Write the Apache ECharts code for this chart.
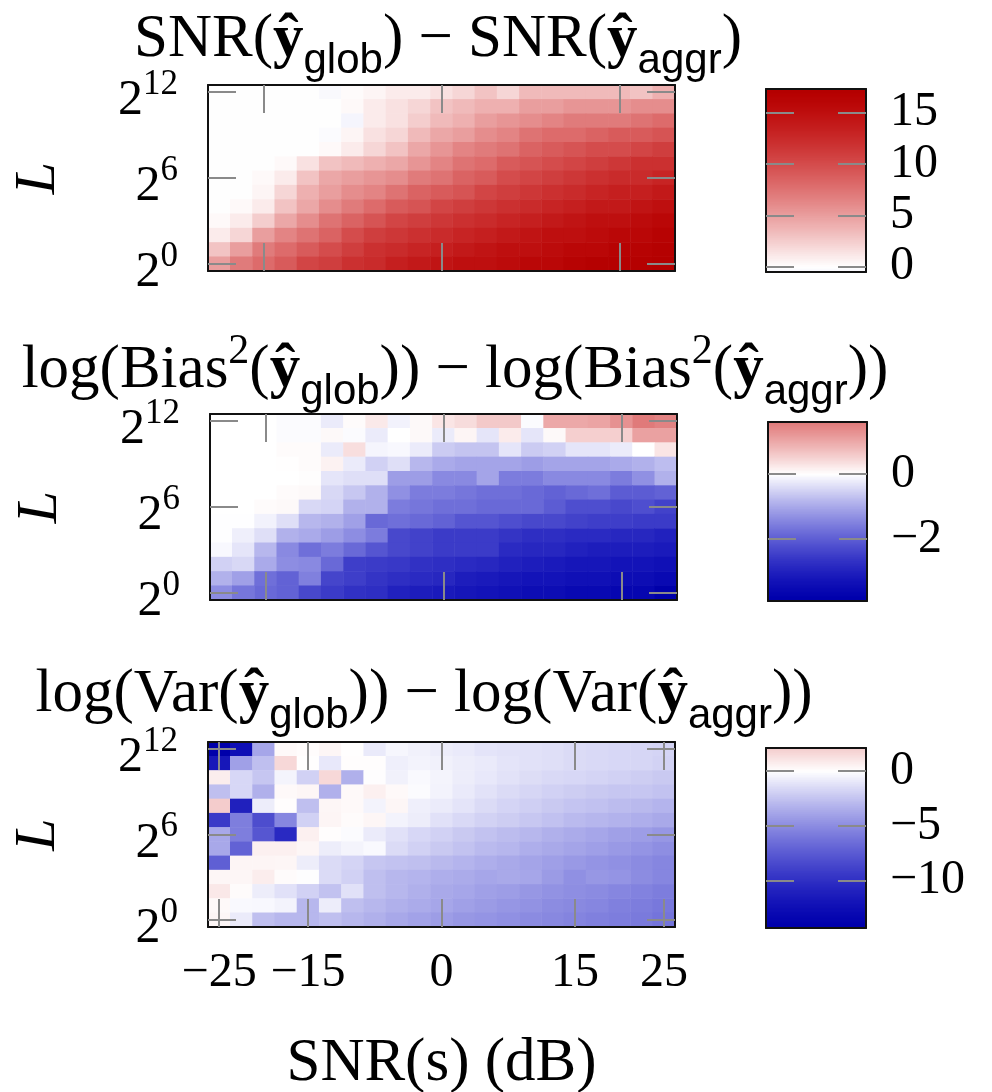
<!DOCTYPE html>
<html>
<head>
<meta charset="utf-8">
<script src="https://cdn.jsdelivr.net/npm/echarts@6/dist/echarts.min.js"></script>
<style>
  html, body { margin: 0; padding: 0; background: #fff; }
  #chart { width: 992px; height: 1092px; }
</style>
</head>
<body>
<div id="chart"></div>
<script>
// x: SNR(s) in dB, y: log2(L)
const snrDb = [-25, -22.5, -20, -17.5, -15, -12.5, -10, -7.5, -5, -2.5, 0, 2.5, 5, 7.5, 10, 12.5, 15, 17.5, 20, 22.5, 25];
const log2L = [0, 1, 2, 3, 4, 5, 6, 7, 8, 9, 10, 11, 12];

const xTicksTop = [-20, 0, 20];
const xTicksBottom = [-25, -15, 0, 15, 25];
const yTicks = [0, 6, 12];

// rows listed from L = 2^12 (top) down to L = 2^0 (bottom)
const snrDiff = [
  [0, 0, 0, 0, 0, -0.3, 0.2, 0.5, 1, 1, 1.5, 2, 3, 2, 3.5, 3.5, 3.5, 3.5, 3.5, 3, 4],
  [0, 0, 0, 0, 0, 0, 0.3, 1, 1.5, 2, 3, 3.5, 4, 4, 5, 5, 5.5, 5.5, 5.5, 6, 6],
  [0, 0, 0, 0, 0, 0, -0.5, 1, 1.5, 2.5, 3.5, 4, 5, 5.5, 6, 6.5, 7, 7, 7, 7.5, 8],
  [0, 0, 0, 0, 0, -0.2, 0.5, 1.5, 2, 3.5, 4.5, 5, 6, 6.5, 7.5, 8, 8, 8.5, 9, 9, 9.5],
  [0, 0, 0, 0, 0, 0.3, 1, 2, 3, 4.5, 5.5, 6.5, 7, 7.5, 8.5, 9, 9.5, 10, 10, 10.5, 11],
  [0, 0, 0, 0.3, 1.5, 3, 3.5, 4, 4.5, 5.5, 6.5, 7.5, 8, 9, 9.5, 10, 10.5, 11, 11.5, 12, 12],
  [0, 0, 0.3, 1, 3, 4.5, 5, 5.5, 6, 7, 7.5, 8.5, 9, 10, 10.5, 11, 11.5, 12, 12.5, 12.5, 13],
  [0, 0, 0.5, 2, 4, 5, 6, 6.5, 7.5, 8.5, 9, 9.5, 10.5, 11, 11.5, 12, 12.5, 13, 13.5, 13.5, 14],
  [0, 0.3, 1, 3, 4.5, 6, 7, 8, 9, 9.5, 10.5, 11, 11.5, 12, 12.5, 13, 13.5, 14, 14, 14.5, 15],
  [0.3, 1, 2.5, 4.5, 6, 7.5, 8.5, 9.5, 10.5, 11, 11.5, 12, 12.5, 13, 13.5, 14, 14.5, 15, 15, 15.5, 16],
  [1, 2, 5, 6.5, 7.5, 8.5, 10, 11, 11.5, 12, 12.5, 13, 13.5, 14, 14.5, 15, 15, 15.5, 16, 16, 16.5],
  [3, 5, 7, 8, 9, 10, 11, 12, 12.5, 13, 13.5, 14, 14.5, 15, 15, 15.5, 16, 16, 16.5, 16.5, 17],
  [5, 7, 8, 9, 10.5, 11, 12, 12.5, 13.5, 14, 14.5, 15, 15, 15.5, 16, 16, 16.5, 17, 17, 17, 17.3]
];

const biasDiff = [
  [0, 0, 0, -0.04, -0.04, -0.22, 0.04, 0.25, -0.14, 0.07, 0.29, 0.39, 0.62, 0.62, -0.04, 1.0, 1.0, 1.05, 1.3, 1.6, 1.5],
  [0, 0, 0, -0.04, -0.04, 0.07, -0.04, -0.22, 0, 0.07, -0.22, 0.11, -0.29, 0.22, -0.29, 0.07, 0.53, 0.53, 0.53, 1.1, 1.1],
  [0, 0, 0, 0.04, 0.04, -0.22, 0.36, -0.11, -0.07, -0.22, -0.59, -0.67, -0.67, -0.29, -0.59, -0.52, -0.29, -0.29, -0.22, 0, 0.29],
  [0, 0, 0, 0.01, 0.04, 0.14, -0.22, -0.52, -0.36, -0.82, -0.98, -1.06, -1.06, -1.06, -1.14, -1.06, -1.06, -1.06, -0.98, -0.9, -0.75],
  [0, 0, 0, 0, 0.02, -0.29, -0.36, -0.36, -1.14, -1.14, -1.39, -1.39, -1.06, -1.57, -1.57, -1.39, -1.39, -1.39, -1.57, -1.31, -0.9],
  [0, 0, 0, 0.04, 0.07, -0.44, -0.63, -0.9, -1.31, -1.57, -1.57, -1.65, -1.74, -1.74, -1.83, -1.93, -1.83, -1.74, -2.02, -2.02, -1.93],
  [0, 0, 0.04, 0.07, -0.44, -0.48, -0.9, -0.9, -1.57, -1.65, -1.74, -1.74, -1.83, -1.83, -1.83, -2.02, -2.22, -2.22, -2.32, -2.22, -2.42],
  [-0.01, -0.01, -0.14, -0.36, -0.82, -0.9, -1.1, -1.83, -1.74, -1.83, -1.93, -2.12, -2.12, -2.22, -2.32, -2.32, -2.42, -2.48, -2.48, -2.53, -2.53],
  [-0.01, -0.18, -0.36, -0.9, -0.98, -1.14, -1.35, -1.57, -2.32, -2.42, -2.53, -2.53, -2.53, -2.64, -2.76, -2.76, -2.82, -2.82, -2.88, -2.88, -3.0],
  [-0.07, -0.29, -0.82, -1.39, -1.74, -1.57, -1.83, -2.12, -2.32, -2.42, -2.53, -2.53, -2.53, -2.82, -2.88, -2.88, -3.0, -3.07, -3.07, -3.07, -3.14],
  [-0.52, -0.44, -0.98, -1.35, -1.39, -1.83, -2.48, -2.53, -2.59, -2.7, -2.76, -2.82, -2.88, -3.0, -3.07, -3.14, -3.21, -3.21, -3.28, -3.28, -3.36],
  [-0.9, -1.1, -1.74, -1.93, -1.52, -2.37, -2.48, -2.64, -2.76, -2.82, -2.88, -3.07, -3.14, -3.21, -3.28, -3.28, -3.36, -3.36, -3.44, -3.44, -3.53],
  [-1.35, -1.65, -1.83, -1.93, -2.32, -2.53, -2.7, -2.76, -3.0, -3.07, -3.14, -3.21, -3.28, -3.36, -3.44, -3.44, -3.53, -3.53, -3.62, -3.62, -3.9]
];

const varDiff = [
  [-14.3, -12.5, -3.79, 0.21, 0.11, 0.36, 0.04, -0.87, -0.36, -0.58, -0.73, -0.87, -1.09, -1.17, -1.24, -1.32, -1.47, -1.55, -1.62, -1.7, -1.77],
  [-11.7, -4.03, -2.69, 1.6, 0.04, -0.95, 0.07, 0.07, -0.65, -0.5, -0.58, -0.73, -0.87, -1.09, -1.24, -1.32, -1.47, -1.55, -1.62, -1.7, -1.85],
  [0.73, -1.62, -2.38, -0.43, -1.92, 1.6, -3.31, -0.04, -0.58, -0.21, -0.43, -0.73, -0.95, -1.17, -1.39, -1.55, -1.62, -1.77, -1.92, -2.08, -2.22],
  [-2.69, -1.62, -3.31, 0.21, 0.36, -3.31, 0.21, 0.58, 0.21, -0.14, -0.5, -0.87, -1.17, -1.47, -1.7, -1.92, -2.08, -2.22, -2.38, -2.38, -2.53],
  [2.1, -11.05, -0.73, 0.07, -2.69, 0.36, 0.21, -0.5, 0.36, -0.65, -0.8, -1.09, -1.47, -1.77, -2.0, -2.22, -2.45, -2.61, -2.77, -2.93, -3.15],
  [-9.28, -5.63, -8.24, -5.29, -1.92, 0.43, 0.14, 0.36, -0.5, -0.73, -1.24, -1.55, -1.85, -2.08, -2.3, -2.61, -2.85, -3.07, -3.23, -3.39, -3.62],
  [-3.7, -5.63, -7.74, -10.4, 0.58, 0.07, -0.14, -0.8, -1.24, -1.62, -1.92, -2.22, -2.53, -2.77, -2.99, -3.31, -3.54, -3.79, -4.03, -4.19, -4.44],
  [-3.7, -7.07, 0.58, 0.58, 0.36, -0.73, -0.43, -0.21, -1.47, -1.92, -2.22, -2.53, -2.85, -3.07, -3.39, -3.62, -3.87, -4.11, -4.36, -4.61, -4.87],
  [-7.25, 0.43, 0.43, 0.36, -0.73, -1.47, -1.77, -2.38, -2.53, -2.69, -2.93, -3.15, -3.39, -3.62, -3.87, -4.11, -4.36, -4.61, -4.77, -5.03, -5.29],
  [0.36, 0.36, 0.73, 0.14, -0.07, -1.47, -1.92, -2.69, -2.99, -3.15, -3.39, -3.54, -3.79, -3.62, -3.79, -4.27, -4.77, -4.44, -4.61, -4.95, -5.29],
  [0.95, 0.14, -0.73, -1.24, -1.92, -2.53, -1.24, -2.69, -2.99, -3.31, -3.62, -3.79, -4.03, -4.19, -4.44, -4.69, -4.87, -5.03, -5.29, -5.46, -5.72],
  [0.21, -0.21, -0.29, -0.5, -2.99, -0.73, -2.69, -2.99, -3.31, -3.54, -3.79, -4.03, -4.27, -4.52, -4.69, -4.95, -5.12, -5.29, -5.55, -5.72, -5.98],
  [0.36, -0.8, -2.69, -2.99, -2.99, -2.69, -2.99, -3.31, -3.7, -3.95, -4.19, -4.44, -4.61, -4.77, -5.03, -5.2, -5.38, -5.55, -5.72, -5.89, -6.16]
];

// colour bar ranges and ticks
const snrRange = [-0.5, 17.3];
const biasRange = [-3.9, 1.6];
const varRange = [-14.3, 2.1];
const snrCbTicks = [0, 5, 10, 15];
const biasCbTicks = [-2, 0];
const varCbTicks = [-10, -5, 0];

const SERIF = 'Liberation Serif';
const SANS = 'Liberation Sans';
const TICK_GRAY = '#8a8a8a';

// blue - white - red colormap, symmetric about 0
const RED = [180, 0, 0], BLUE = [0, 0, 170];
function cmap(v, m) {
  const t = Math.max(-1, Math.min(1, v / m));
  const a = Math.abs(t);
  const fade = 255 * Math.pow(1 - a, 1.4);
  const main = Math.round(255 + ((t >= 0 ? RED[0] : BLUE[2]) - 255) * a);
  const c = t >= 0 ? [main, fade, fade] : [fade, fade, main];
  return 'rgb(' + c.map(Math.round).join(',') + ')';
}
function colorStops(range) {
  const m = Math.max(-range[0], range[1]);
  const n = 121;
  const out = [];
  for (let i = 0; i < n; i++) out.push(cmap(range[0] + (range[1] - range[0]) * i / (n - 1), m));
  return out;
}

const fmtNum = v => (v < 0 ? '\u2212' + Math.abs(v) : String(v));

const panels = [
  { rows: snrDiff, range: snrRange, cbTicks: snrCbTicks, xTicks: xTicksTop, last: false,
    grid: { left: 208, top: 85, width: 467, height: 186 },
    cb: { left: 766, top: 89, width: 100, height: 183 } },
  { rows: biasDiff, range: biasRange, cbTicks: biasCbTicks, xTicks: xTicksTop, last: false,
    grid: { left: 210, top: 414, width: 467, height: 186 },
    cb: { left: 768, top: 422, width: 99, height: 179 } },
  { rows: varDiff, range: varRange, cbTicks: varCbTicks, xTicks: xTicksBottom, last: true,
    grid: { left: 208, top: 742, width: 467, height: 185 },
    cb: { left: 766, top: 748, width: 100, height: 180 } }
];

const grid = [], xAxis = [], yAxis = [], series = [], visualMap = [];
const lineStyle = { color: '#111', width: 2 };
const tickStyle = { color: TICK_GRAY, width: 2 };

panels.forEach((p) => {
  grid.push(Object.assign({ outerBoundsMode: 'none' }, p.grid));
  const gi = grid.length - 1;
  grid.push(Object.assign({ outerBoundsMode: 'none' }, p.cb));
  const ci = grid.length - 1;

  const xTickFn = (idx, v) => p.xTicks.includes(Number(v));
  const yTickFn = (idx, v) => yTicks.includes(Number(v));

  const xBottomIdx = xAxis.length;
  ['bottom', 'top'].forEach(pos => {
    const isBottom = pos === 'bottom';
    xAxis.push({
      type: 'category', gridIndex: gi, position: pos, data: snrDb, z: 10,
      axisLine: { show: true, onZero: false, lineStyle },
      axisTick: { show: true, inside: true, length: 28, alignWithLabel: true, interval: xTickFn, lineStyle: tickStyle },
      axisLabel: {
        show: isBottom && p.last, interval: xTickFn, margin: 22,
        formatter: v => fmtNum(Number(v)),
        fontFamily: SERIF, fontSize: 48, color: '#000'
      },
      splitLine: { show: false },
      name: isBottom && p.last ? 'SNR(s) (dB)' : '',
      nameLocation: 'middle', nameGap: 106,
      nameTextStyle: { fontFamily: SERIF, fontSize: 61, color: '#000' }
    });
  });
  const yLeftIdx = yAxis.length;
  ['left', 'right'].forEach(pos => {
    const isLeft = pos === 'left';
    yAxis.push({
      type: 'category', gridIndex: gi, position: pos, data: log2L, z: 10,
      axisLine: { show: true, onZero: false, lineStyle },
      axisTick: { show: true, inside: true, length: 28, alignWithLabel: true, interval: yTickFn, lineStyle: tickStyle },
      axisLabel: {
        show: isLeft, interval: yTickFn, margin: 30,
        formatter: v => '{b|2}{s|' + v + '}',
        rich: {
          b: { fontFamily: SERIF, fontSize: 50, color: '#000', verticalAlign: 'bottom', padding: [18, 0, 0, 0] },
          s: { fontFamily: SERIF, fontSize: 35, color: '#000', verticalAlign: 'bottom', padding: [0, 0, 24, 0] }
        }
      },
      splitLine: { show: false },
      name: isLeft ? 'L' : '',
      nameLocation: 'middle', nameGap: 140,
      nameTextStyle: { fontFamily: SERIF, fontStyle: 'italic', fontSize: 58, color: '#000' }
    });
  });

  // colour bar: one cell per pixel row
  const cbCells = p.cb.height;
  xAxis.push({ type: 'category', gridIndex: ci, data: ['c'], show: false });
  const cbX = xAxis.length - 1;
  const cbCats = [];
  for (let k = 0; k < cbCells; k++) cbCats.push(k);
  yAxis.push({ type: 'category', gridIndex: ci, data: cbCats, show: false });
  const cbY = yAxis.length - 1;
  ['left', 'right'].forEach(pos => {
    yAxis.push({
      type: 'value', gridIndex: ci, position: pos, min: p.range[0], max: p.range[1], z: 10,
      axisLine: { show: true, onZero: false, lineStyle },
      axisTick: { show: true, inside: true, length: 28, customValues: p.cbTicks, lineStyle: tickStyle },
      axisLabel: {
        show: pos === 'right', customValues: p.cbTicks, margin: 24,
        formatter: v => fmtNum(v),
        fontFamily: SERIF, fontSize: 48, color: '#000'
      },
      splitLine: { show: false }
    });
  });
  ['top', 'bottom'].forEach(pos => {
    xAxis.push({
      type: 'value', gridIndex: ci, position: pos, min: 0, max: 1, z: 10,
      axisLine: { show: true, onZero: false, lineStyle },
      axisTick: { show: false }, axisLabel: { show: false }, splitLine: { show: false }
    });
  });

  const data = [];
  p.rows.forEach((row, r) => {
    const yIdx = log2L.length - 1 - r;
    row.forEach((v, c) => data.push([c, yIdx, v]));
  });
  series.push({ type: 'heatmap', xAxisIndex: xBottomIdx, yAxisIndex: yLeftIdx, data, itemStyle: { borderWidth: 0 } });

  const cbData = [];
  for (let k = 0; k < cbCells; k++) {
    cbData.push([0, k, p.range[0] + (p.range[1] - p.range[0]) * (k + 0.5) / cbCells]);
  }
  series.push({ type: 'heatmap', xAxisIndex: cbX, yAxisIndex: cbY, data: cbData, silent: true, itemStyle: { borderWidth: 0 } });

  visualMap.push({
    type: 'continuous', show: false, dimension: 2,
    min: p.range[0], max: p.range[1],
    seriesIndex: [series.length - 2, series.length - 1],
    inRange: { color: colorStops(p.range) }
  });
});

const TF = 61;
const titleRich = {
  n: { fontFamily: SERIF, fontSize: TF, color: '#000', verticalAlign: 'bottom', padding: [0, 0, 12, 0] },
  y: { fontFamily: SERIF, fontSize: TF, fontWeight: 'bold', color: '#000', verticalAlign: 'bottom', padding: [0, 0, 12, 0] },
  sub: { fontFamily: SANS, fontSize: 42, color: '#000', verticalAlign: 'bottom', padding: [0, 0, 0, 0] },
  sup: { fontFamily: SERIF, fontSize: 42, color: '#000', verticalAlign: 'bottom', padding: [0, 0, 40, 0] }
};
const titleText = (x, y, text) => ({
  type: 'text', x, y, z: 20,
  style: { text, rich: titleRich, align: 'center', verticalAlign: 'middle', fontFamily: SERIF, fontSize: TF, fill: '#000' }
});

const option = {
  animation: false,
  backgroundColor: '#fff',
  grid, xAxis, yAxis, series, visualMap,
  graphic: [
    titleText(438, 46, '{n|SNR(}{y|\u0177}{sub|glob}{n|) \u2212 SNR(}{y|\u0177}{sub|aggr}{n|)}'),
    titleText(455, 372, '{n|log(Bias}{sup|2}{n|(}{y|\u0177}{sub|glob}{n|)) \u2212 log(Bias}{sup|2}{n|(}{y|\u0177}{sub|aggr}{n|))}'),
    titleText(424, 701, '{n|log(Var(}{y|\u0177}{sub|glob}{n|)) \u2212 log(Var(}{y|\u0177}{sub|aggr}{n|))}')
  ]
};

const chart = echarts.init(document.getElementById('chart'), null, { renderer: 'canvas' });
chart.setOption(option);
</script>
</body>
</html>
